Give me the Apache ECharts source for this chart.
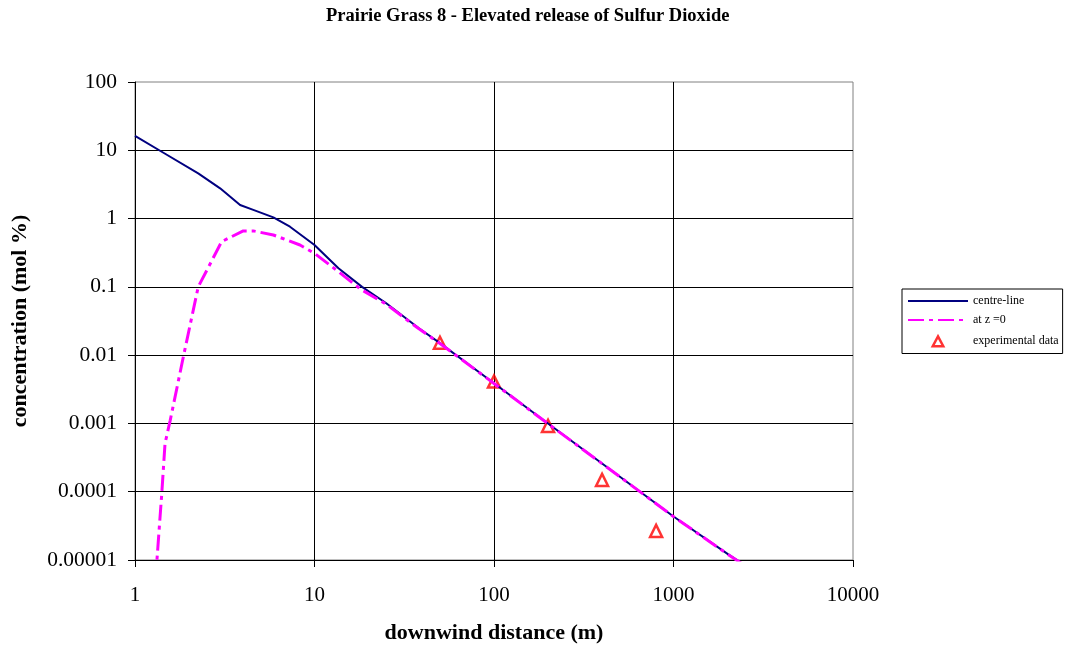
<!DOCTYPE html>
<html>
<head>
<meta charset="utf-8">
<script src="https://cdn.jsdelivr.net/npm/echarts@6/dist/echarts.min.js"></script>
<style>
html,body{margin:0;padding:0;background:#fff;}
#chart{width:1065px;height:651px;}
</style>
</head>
<body>
<div id="chart"></div>
<script>
// Data
var centreX = [1, 1.44, 2.25, 2.98, 3.85, 4.56, 5.9, 7.3, 10, 13.6, 18.4, 25, 38, 50, 100, 200, 400, 1000, 2000, 3000];
var centreY = [16.2, 9.2, 4.6, 2.77, 1.58, 1.34, 1.04, 0.76, 0.41, 0.187, 0.1, 0.058, 0.025, 0.015, 0.00388, 0.001, 0.000259, 0.0000433, 0.0000123, 0.0000061];

var groundX = [1.3, 1.41, 1.47, 1.57, 1.86, 2.25, 3.04, 4.01, 4.56, 5.9, 8.3, 10, 13.6, 18, 25, 38, 50, 100, 200, 400, 1000, 2000, 3000];
var groundY = [0.000005, 0.000095, 0.00051, 0.0011, 0.0095, 0.1, 0.46, 0.66, 0.66, 0.575, 0.41, 0.31, 0.167, 0.093, 0.056, 0.0245, 0.0148, 0.00385, 0.00099, 0.000258, 0.0000432, 0.0000122, 0.000006];

var expX = [50, 100, 200, 400, 800];
var expY = [0.0152, 0.0041, 0.00092, 0.000149, 0.0000267];

var seriesNames = ['centre-line', 'at z =0', 'experimental data'];
var titleText = 'Prairie Grass 8 - Elevated release of Sulfur Dioxide';
var xTitle = 'downwind distance (m)';
var yTitle = 'concentration (mol %)';

function zip(xs, ys) { return xs.map(function (x, i) { return [x, ys[i]]; }); }

var FONT = 'Liberation Serif';
var chart = echarts.init(document.getElementById('chart'), null, {renderer: 'canvas'});
var hiddenSymbol = {color: 'transparent', borderColor: 'transparent', borderWidth: 0, opacity: 0};

chart.setOption({
  animation: false,
  backgroundColor: '#fff',
  title: {
    text: titleText,
    left: 321,
    top: 2,
    textStyle: {fontFamily: FONT, fontSize: 18.5, fontWeight: 'bold', color: '#000'}
  },
  grid: {
    left: 135, top: 82, width: 718, height: 478,
    show: true, borderColor: '#808080', borderWidth: 1, backgroundColor: 'transparent'
  },
  legend: {
    orient: 'vertical',
    left: 902, top: 289,
    padding: [6, 4, 4, 5],
    itemWidth: 60, itemHeight: 14, itemGap: 7,
    borderColor: '#000', borderWidth: 1,
    textStyle: {fontFamily: FONT, fontSize: 12, color: '#000'},
    data: [
      {name: seriesNames[0], itemStyle: hiddenSymbol},
      {name: seriesNames[1], itemStyle: hiddenSymbol},
      {name: seriesNames[2], icon: 'path://M0,-0.7L0.75,0.7L-0.75,0.7Z M-1,-1 M1,1',
       itemStyle: {color: 'transparent', borderColor: '#ff0000', borderWidth: 2.5}}
    ]
  },
  xAxis: {
    type: 'log', logBase: 10, min: 1, max: 10000, splitNumber: 4,
    name: xTitle, nameLocation: 'middle', nameGap: 62,
    nameTextStyle: {fontFamily: FONT, fontSize: 22, fontWeight: 'bold', color: '#000'},
    axisLine: {show: true, lineStyle: {color: '#000', width: 1}},
    axisTick: {show: true, length: 7, lineStyle: {color: '#000'}},
    minorTick: {show: false},
    axisLabel: {fontFamily: FONT, fontSize: 21, color: '#000', margin: 25,
      formatter: function (v) { return String(Math.round(v)); }},
    splitLine: {show: true, showMaxLine: false, lineStyle: {color: '#000', width: 1}}
  },
  yAxis: {
    type: 'log', logBase: 10, min: 0.00001, max: 100, splitNumber: 7,
    name: yTitle, nameLocation: 'middle', nameGap: 104,
    nameTextStyle: {fontFamily: FONT, fontSize: 22, fontWeight: 'bold', color: '#000'},
    axisLine: {show: true, lineStyle: {color: '#000', width: 1}},
    axisTick: {show: true, length: 7, lineStyle: {color: '#000'}},
    minorTick: {show: false},
    axisLabel: {fontFamily: FONT, fontSize: 21.5, color: '#000', margin: 18,
      formatter: function (v) {
        if (v >= 1) return String(Math.round(v));
        var d = Math.round(-Math.log10(v));
        return v.toFixed(d);
      }},
    splitLine: {show: true, showMaxLine: false, lineStyle: {color: '#000', width: 1}}
  },
  series: [
    {
      name: seriesNames[0], type: 'line', data: zip(centreX, centreY),
      symbol: 'none', clip: true, smooth: false,
      lineStyle: {color: '#000080', width: 2},
      itemStyle: {color: '#000080'}
    },
    {
      name: seriesNames[1], type: 'line', data: zip(groundX, groundY),
      symbol: 'none', clip: true, smooth: false,
      lineStyle: {color: '#ff00ff', width: 3, type: [16, 5, 4, 5]},
      itemStyle: {color: '#ff00ff'}
    },
    {
      name: seriesNames[2], type: 'scatter', data: zip(expX, expY),
      symbol: 'triangle', symbolSize: 12,
      itemStyle: {color: 'transparent', borderColor: '#ff0000', borderWidth: 2.5}
    }
  ]
});
</script>
</body>
</html>
